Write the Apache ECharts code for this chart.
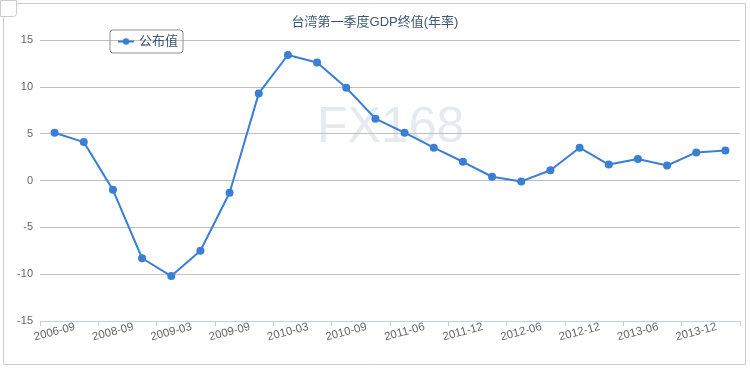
<!DOCTYPE html>
<html><head><meta charset="utf-8">
<script src="https://cdn.jsdelivr.net/npm/echarts@6/dist/echarts.min.js"></script>
<style>html,body{margin:0;padding:0;background:#fff}#c{width:750px;height:370px}</style>
</head><body><div id="c"></div>
<script>
const categories = ['2006-09','2007-09','2008-09','2008-12','2009-03','2009-06','2009-09','2009-12','2010-03','2010-06','2010-09','2010-12','2011-06','2011-09','2011-12','2012-03','2012-06','2012-09','2012-12','2013-03','2013-06','2013-09','2013-12','2014-03'];
const values = [5.1, 4.1, -1.0, -8.3, -10.2, -7.5, -1.3, 9.3, 13.4, 12.6, 9.9, 6.6, 5.1, 3.5, 2.0, 0.4, -0.1, 1.1, 3.5, 1.7, 2.3, 1.6, 3.0, 3.2];
const seriesName = '公布值';
const titleText = '台湾第一季度GDP终值(年率)';
const FONT = '"Liberation Sans", Arial, "Noto Sans CJK SC", sans-serif';
const chart = echarts.init(document.getElementById('c'));
chart.setOption({
  animation: false,
  textStyle: {fontFamily: FONT},
  title: {text: titleText, left: 'center', top: 11, textStyle: {fontSize: 13, fontWeight: 'normal', color: '#3E576F', fontFamily: FONT}},
  legend: {
    data: [seriesName], left: 110, top: 30, orient: 'horizontal',
    borderColor: '#909090', borderWidth: 1, borderRadius: 3, padding: [5, 5, 5, 7],
    itemWidth: 16, itemHeight: 8, itemGap: 5,
    textStyle: {fontSize: 13, color: '#3E576F', fontFamily: FONT}
  },
  grid: {left: 40, right: 10, top: 40, bottom: 49, containLabel: false},
  graphic: [
    {type: 'rect', shape: {x: 3.5, y: 3.5, width: 742, height: 361}, style: {fill: 'none', stroke: '#cccccc', lineWidth: 1}, z: -1},
    {type: 'rect', shape: {x: 0.5, y: 0.5, width: 16, height: 16, r: [0, 0, 3, 0]}, style: {fill: '#ffffff', stroke: '#cccccc', lineWidth: 1}, z: 1},
    {type: 'text', left: 317, top: 103, style: {text: 'FX168', fontSize: 50, fill: '#e4eaf0', fontFamily: FONT}, z: -1}
  ],
  xAxis: {
    type: 'category', data: categories, boundaryGap: true,
    axisLine: {onZero: false, lineStyle: {color: '#C0D0E0'}},
    axisTick: {show: true, interval: 1, length: 5, lineStyle: {color: '#C0D0E0'}},
    axisLabel: {interval: 1, rotate: 15, align: 'center', verticalAlign: 'middle', margin: 11, fontSize: 11.5, color: '#666666'},
    splitLine: {show: false}
  },
  yAxis: {
    type: 'value', min: -15, max: 15, interval: 5,
    axisLine: {show: false}, axisTick: {show: false},
    axisLabel: {fontSize: 11, color: '#666666', margin: 7},
    splitLine: {lineStyle: {color: '#C0C0C0'}}
  },
  series: [{
    name: seriesName, type: 'line', data: values,
    symbol: 'circle', symbolSize: 8,
    lineStyle: {color: '#3a7fd4', width: 2},
    itemStyle: {color: '#3a7fd4'}
  }]
});
</script></body></html>
